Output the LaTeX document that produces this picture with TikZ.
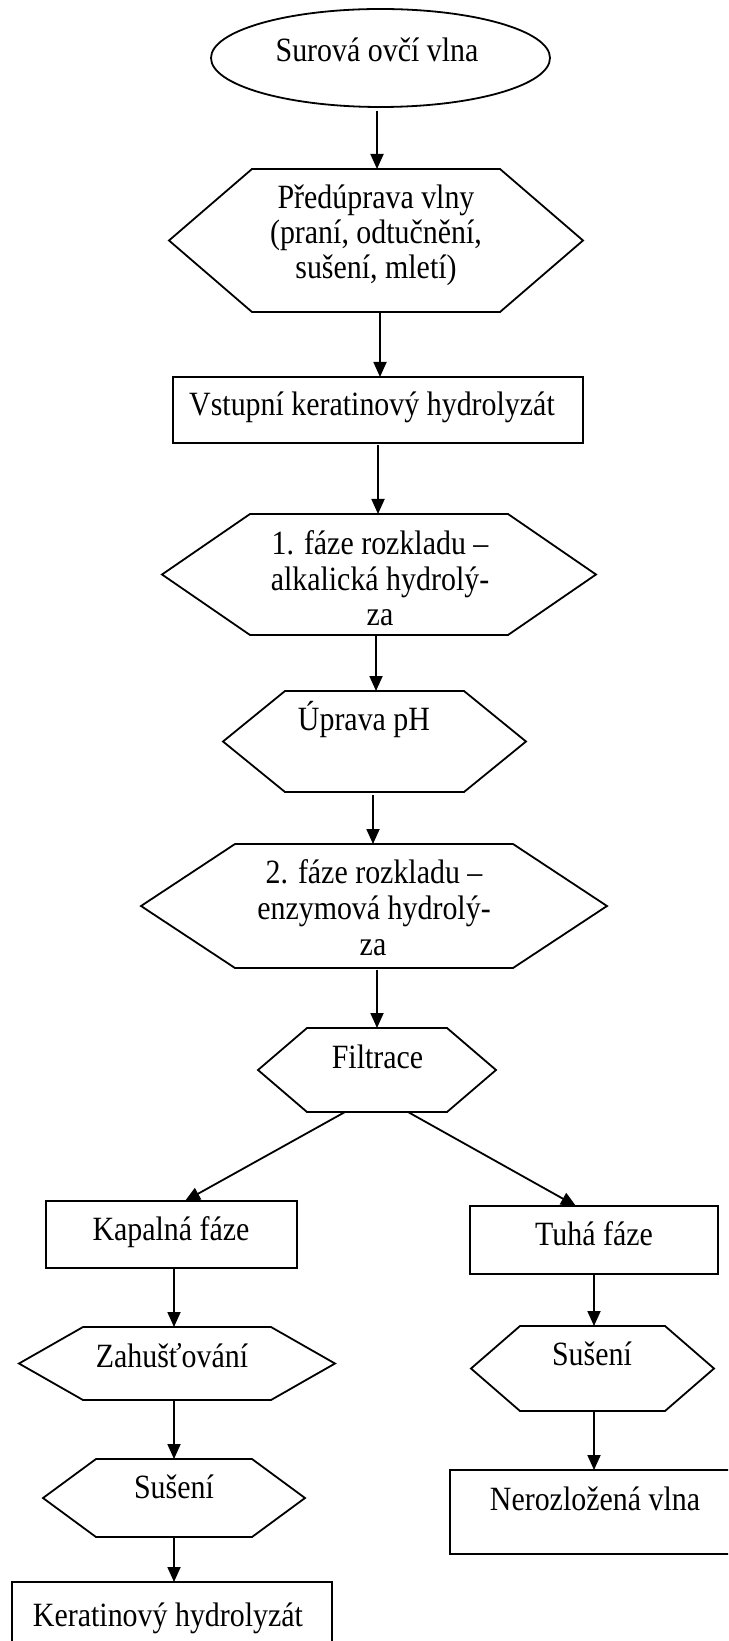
\documentclass[tikz,border=0pt]{standalone}
\usepackage{fontspec}
\setmainfont{Liberation Serif}
\newfontfamily\reffont[FakeStretch=0.88]{Liberation Serif}
\usetikzlibrary{arrows.meta,shapes.geometric}
\tikzset{
  shp/.style={draw=none, inner sep=0pt, outer sep=0pt},
  ln/.style={line width=0.9pt, line join=miter},
  rectbox/.style={draw, line width=0.9pt, inner sep=0pt, outer sep=0pt},
  ellbox/.style={draw, ellipse, line width=0.9pt, inner sep=0pt, outer sep=0pt},
  arr/.style={line width=0.9pt, -{Triangle[length=7.5pt,width=6.5pt]}},
  txt/.style={inner sep=0pt, outer sep=0pt, anchor=base, font=\reffont\fontsize{17pt}{20pt}\selectfont},
}
\newcommand\hexnode[6]{%
  \node[shp, minimum width=#4*0.5pt, minimum height=#5*0.5pt] (#1) at (#2,#3) {};
  \draw[ln] ([xshift=#6*0.5pt]#1.north west) -- ([xshift=-#6*0.5pt]#1.north east) -- (#1.east)
    -- ([xshift=-#6*0.5pt]#1.south east) -- ([xshift=#6*0.5pt]#1.south west) -- (#1.west) -- cycle;}
\begin{document}
\begin{tikzpicture}[x=0.5pt, y=-0.5pt]
\useasboundingbox (0,0) rectangle (728,1641);
\fill[white] (0,0) rectangle (728,1641);
\clip (0,0) rectangle (728,1641);

% shapes
\node[ellbox, minimum width=169.5pt, minimum height=49pt] (e1) at (380.5,58) {};
\hexnode{h1}{376}{240.5}{414}{143}{83}
\node[rectbox, minimum width=205pt, minimum height=33pt] (r1) at (378,410) {};
\hexnode{h2}{379}{574.5}{434}{121}{88}
\hexnode{h3}{374.5}{741.5}{303}{101}{62}
\hexnode{h4}{374}{906}{466}{124}{94}
\hexnode{h5}{377}{1070}{238}{84}{49}
\node[rectbox, minimum width=125.5pt, minimum height=33.5pt] (r2) at (171.5,1234.5) {};
\node[rectbox, minimum width=124pt, minimum height=34pt] (r3) at (594,1240) {};
\hexnode{h6}{177}{1363.5}{316}{73}{64}
\hexnode{h7}{174}{1498}{262}{78}{53}
\node[rectbox, minimum width=160pt, minimum height=49pt] (r4) at (172,1631) {};
\hexnode{h8}{592.5}{1368.5}{243}{85}{49}
\node[rectbox, minimum width=145pt, minimum height=42pt] (r5) at (595,1512) {};

% texts
\node[txt] (e1t) at (377,62) {Surová ovčí vlna};
\node[txt] (h1a) at (376,209) {Předúprava vlny};
\node[txt] (h1b) at (376,244) {(praní, odtučnění,};
\node[txt] (h1c) at (376,279) {sušení, mletí)};
\node[txt] (r1t) at (372,416) {Vstupní keratinový hydrolyzát};
\node[txt] (h2a) at (380,554) {1. fáze rozkladu –};
\node[txt] (h2b) at (380,590) {alkalická hydrolý-};
\node[txt] (h2c) at (380,625) {za};
\node[txt] (h3t) at (364,730) {Úprava pH};
\node[txt] (h4a) at (374,883) {2. fáze rozkladu –};
\node[txt] (h4b) at (374,919) {enzymová hydrolý-};
\node[txt] (h4c) at (373,955) {za};
\node[txt] (h5t) at (377.5,1068) {Filtrace};
\node[txt] (r2t) at (171,1240) {Kapalná fáze};
\node[txt] (r3t) at (594,1245) {Tuhá fáze};
\node[txt] (h6t) at (172,1367) {Zahušťování};
\node[txt] (h7t) at (174,1498) {Sušení};
\node[txt] (r4t) at (168,1626) {Keratinový hydrolyzát};
\node[txt] (h8t) at (592,1365) {Sušení};
\node[txt] (r5t) at (595,1510) {Nerozložená vlna};

% connectors
\draw[arr] ([xshift=-1.75pt,yshift=-2pt]e1.south) -- ([xshift=0.5pt]h1.north);
\draw[arr] ([xshift=2pt]h1.south) -- ([xshift=1pt]r1.north);
\draw[arr] ([yshift=-1pt]r1.south) -- ([xshift=-0.5pt]h2.north);
\draw[arr] ([xshift=-1.5pt]h2.south) -- ([xshift=0.75pt]h3.north);
\draw[arr] ([xshift=-0.75pt,yshift=-1.5pt]h3.south) -- ([xshift=-0.5pt]h4.north);
\draw[arr] ([xshift=1.5pt,yshift=-1pt]h4.south) -- (h5.north);
\draw[arr] ([xshift=-16pt]h5.south) -- ([xshift=6.75pt]r2.north);
\draw[arr] ([xshift=15.5pt]h5.south) -- ([xshift=-9pt]r3.north);
\draw[arr] ([xshift=1.25pt]r2.south) -- ([xshift=-1.5pt]h6.north);
\draw[arr] ([xshift=-1.5pt]h6.south) -- (h7.north);
\draw[arr] (h7.south) -- ([xshift=1pt]r4.north);
\draw[arr] (r3.south) -- ([xshift=0.75pt]h8.north);
\draw[arr] ([xshift=0.75pt]h8.south) -- ([xshift=-0.5pt]r5.north);
\end{tikzpicture}
\end{document}
